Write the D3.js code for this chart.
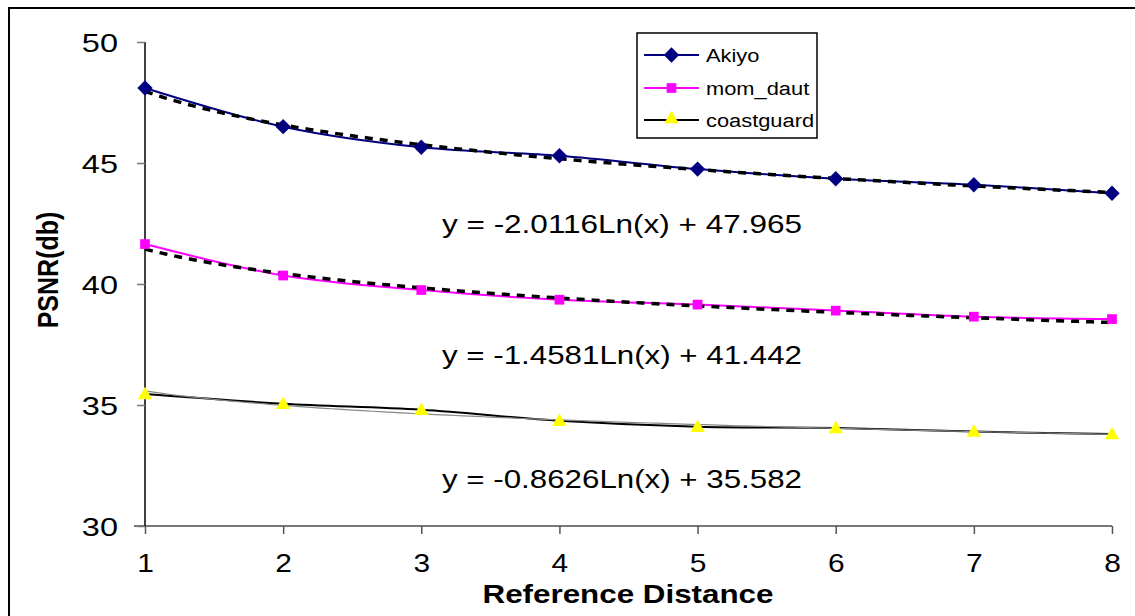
<!DOCTYPE html>
<meta charset="utf-8">
<head>
  <style>
    body { margin: 0; background: #fff; }
    svg { display: block; font-family: Arial, "Liberation Sans", sans-serif; }
  </style>
</head>
<body>
  <script src="https://d3js.org/d3.v7.min.js"></script>
  <script>
    const distances = [1, 2, 3, 4, 5, 6, 7, 8];
    const akiyo = [48.1, 46.5, 45.65, 45.3, 44.75, 44.35, 44.1, 43.75];
    const momDaut = [41.65, 40.35, 39.75, 39.35, 39.15, 38.9, 38.65, 38.55];
    const coastguard = [35.45, 35.05, 34.8, 34.35, 34.1, 34.05, 33.9, 33.8];
    const seriesNames = ["Akiyo", "mom_daut", "coastguard"];
    // trendline y = a*ln(x) + b, as printed on the chart
    const trendA = [-2.0116, -1.4581, -0.8626];
    const trendB = [47.965, 41.442, 35.582];
    const trendLabels = ["y = -2.0116Ln(x) + 47.965", "y = -1.4581Ln(x) + 41.442", "y = -0.8626Ln(x) + 35.582"];
    const yTicks = [30, 35, 40, 45, 50];

    const W = 1135, H = 616;
    const svg = d3.select("body").append("svg").attr("width", W).attr("height", H);

    // outer chart border (runs off the right/bottom of the picture)
    svg.append("rect").attr("x", 9).attr("y", 8).attr("width", W + 20).attr("height", H + 20)
      .attr("fill", "#fff").attr("stroke", "#000").attr("stroke-width", 2);

    const x = d3.scaleLinear().domain([1, 8]).range([145, 1112]);
    const y = d3.scaleLinear().domain([30, 50]).range([526, 42]);

    // the original text is a bit wide, stretch it sideways
    function stretch(sel, s) {
      sel.each(function () {
        const t = d3.select(this);
        const tx = +t.attr("x") || 0, ty = +t.attr("y") || 0;
        t.attr("x", 0).attr("y", 0).attr("transform", `translate(${tx},${ty}) scale(${s},1)`);
      });
    }

    // x axis
    const xAxis = svg.append("g").attr("transform", "translate(0,526)")
      .call(d3.axisBottom(x).tickValues(distances).tickSize(8).tickPadding(20).tickFormat(d3.format("d")));
    xAxis.select(".domain").attr("stroke", "#777").attr("stroke-width", 2).attr("d", "M134,0H1112");
    xAxis.selectAll(".tick line").attr("stroke", "#555").attr("stroke-width", 1.5);
    xAxis.selectAll(".tick text").attr("font-size", 26).attr("fill", "#000").attr("dy", "0.71em")
      .call(stretch, 1.15);

    // y axis
    const yAxis = svg.append("g").attr("transform", "translate(145,0)")
      .call(d3.axisLeft(y).tickValues(yTicks).tickSize(8).tickPadding(19));
    yAxis.select(".domain").attr("stroke", "#000").attr("stroke-width", 1.5).attr("d", "M0,42V526");
    yAxis.selectAll(".tick line").attr("stroke", "#777").attr("stroke-width", 1.5);
    yAxis.selectAll(".tick text").attr("font-size", 26).attr("fill", "#000").attr("dy", "0.36em")
      .call(stretch, 1.25);

    svg.append("text").attr("x", 628).attr("y", 603).attr("text-anchor", "middle")
      .attr("font-size", 26).attr("font-weight", "bold")
      .attr("textLength", 291).attr("lengthAdjust", "spacingAndGlyphs").text("Reference Distance");
    svg.append("text").attr("transform", "translate(58,270) rotate(-90) scale(1,1.2)").attr("text-anchor", "middle")
      .attr("font-size", 25).attr("font-weight", "bold").text("PSNR(db)");

    const series = [akiyo, momDaut, coastguard];
    const lineColors = ["#000080", "#ff00ff", "#000"];
    const markerFill = ["#000080", "#ff00ff", "#ffff00"];
    const symbols = [d3.symbolDiamond2, d3.symbolSquare2, d3.symbolTriangle2];
    const symbolSize = [150, 120, 150];

    const smooth = d3.line().x(d => x(d[0])).y(d => y(d[1])).curve(d3.curveCatmullRom.alpha(0.5));
    const plain = d3.line().x(d => x(d[0])).y(d => y(d[1]));

    series.forEach((vals, i) => {
      svg.append("path")
        .attr("d", smooth(distances.map((d, j) => [d, vals[j]])))
        .attr("fill", "none").attr("stroke", lineColors[i]).attr("stroke-width", 2);
    });

    // trendlines
    const fine = d3.range(1, 8.001, 0.05);
    series.forEach((vals, i) => {
      const pts = fine.map(t => [t, trendA[i] * Math.log(t) + trendB[i]]);
      const p = svg.append("path").attr("d", plain(pts)).attr("fill", "none");
      if (i < 2) {
        p.attr("stroke", "#000").attr("stroke-width", 3.5).attr("stroke-dasharray", "8,7");
      } else {
        p.attr("stroke", "#888").attr("stroke-width", 1.2);
      }
    });

    series.forEach((vals, i) => {
      svg.append("g").selectAll("path").data(distances).join("path")
        .attr("transform", (d, j) => `translate(${x(d)},${y(vals[j]) + (i === 2 ? 1 : 0)})`)
        .attr("d", d3.symbol().type(symbols[i]).size(symbolSize[i])())
        .attr("fill", markerFill[i]);
    });

    // trendline equations
    const eqY = [233, 364, 488];
    trendLabels.forEach((t, i) => {
      svg.append("text").attr("x", 622).attr("y", eqY[i]).attr("text-anchor", "middle")
        .attr("font-size", 25).attr("textLength", 360).attr("lengthAdjust", "spacingAndGlyphs").text(t);
    });

    // legend
    const lg = svg.append("g");
    lg.append("rect").attr("x", 637).attr("y", 33).attr("width", 180).attr("height", 105)
      .attr("fill", "#fff").attr("stroke", "#000").attr("stroke-width", 1.5);
    const legendY = [55, 88, 120];
    seriesNames.forEach((n, i) => {
      lg.append("line").attr("x1", 644).attr("x2", 699).attr("y1", legendY[i]).attr("y2", legendY[i])
        .attr("stroke", lineColors[i]).attr("stroke-width", 2);
      lg.append("path").attr("transform", `translate(671.5,${legendY[i] + (i === 2 ? -1 : 0)})`)
        .attr("d", d3.symbol().type(symbols[i]).size(symbolSize[i])())
        .attr("fill", markerFill[i]);
      lg.append("text").attr("x", 706).attr("y", legendY[i]).attr("dy", "0.36em")
        .attr("font-size", 19).text(n).call(stretch, 1.15);
    });
  </script>
</body>
